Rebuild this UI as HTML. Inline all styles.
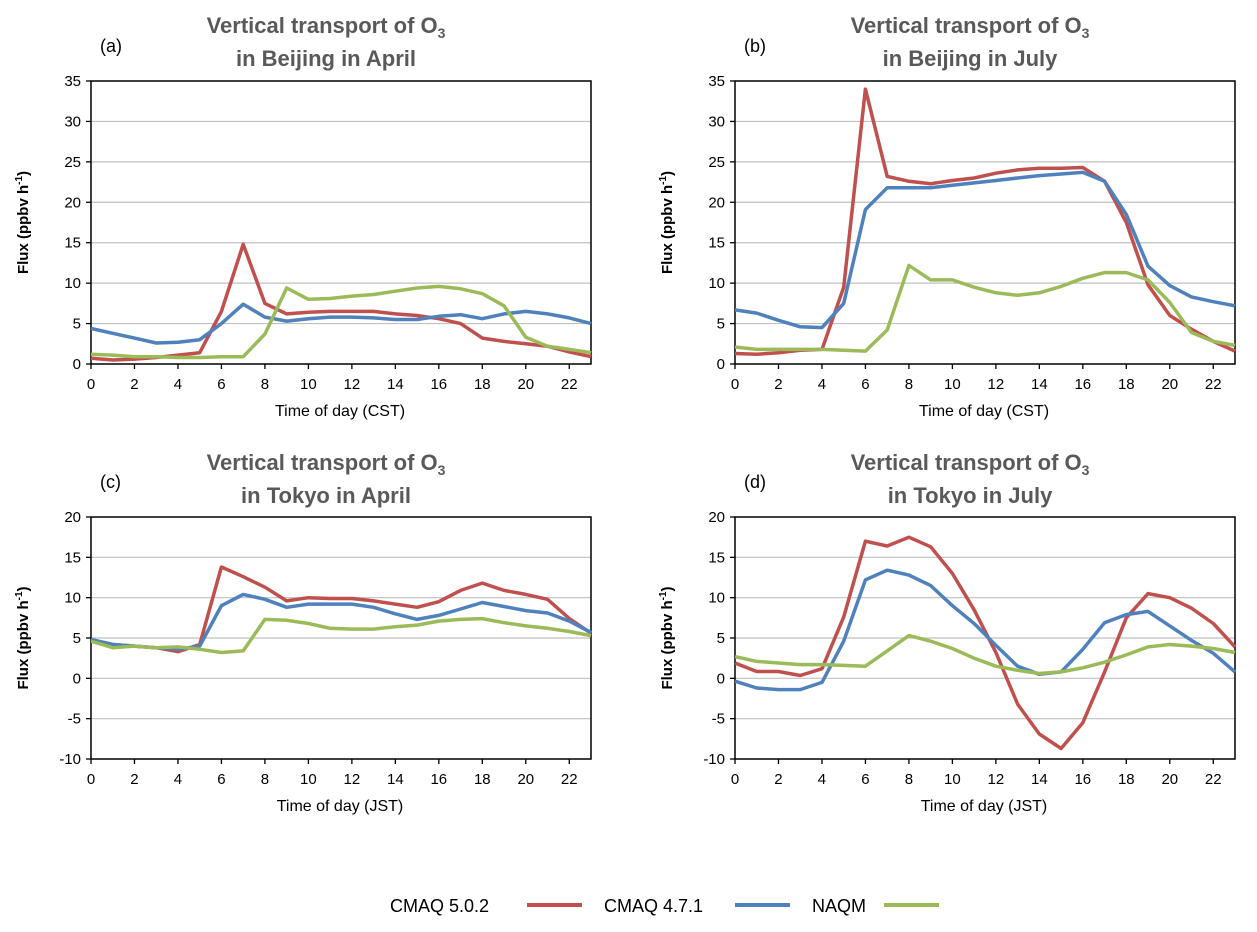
<!DOCTYPE html>
<html><head><meta charset="utf-8"><style>
body{margin:0;background:#fff;font-family:"Liberation Sans",sans-serif}
svg text{font-family:"Liberation Sans",sans-serif}
</style></head><body>
<svg id="s" width="1257" height="927" xmlns="http://www.w3.org/2000/svg"></svg>
<script>
const hours=[0,1,2,3,4,5,6,7,8,9,10,11,12,13,14,15,16,17,18,19,20,21,22,23];
const xTicks=[0,2,4,6,8,10,12,14,16,18,20,22];
const seriesNames=["CMAQ 5.0.2","CMAQ 4.7.1","NAQM"];
const seriesColors=["#c0504d","#4f81bd","#9bbb59"];
const aRed=[0.7,0.5,0.6,0.8,1.1,1.4,6.5,14.8,7.5,6.2,6.4,6.5,6.5,6.5,6.2,6,5.6,5,3.2,2.8,2.5,2.2,1.5,0.9];
const aBlue=[4.4,3.8,3.2,2.6,2.7,3,5,7.4,5.8,5.3,5.6,5.8,5.8,5.7,5.5,5.5,5.9,6.1,5.6,6.2,6.5,6.2,5.7,5];
const aGreen=[1.2,1.1,0.9,0.9,0.8,0.8,0.9,0.9,3.7,9.4,8,8.1,8.4,8.6,9,9.4,9.6,9.3,8.7,7.2,3.3,2.2,1.8,1.4];
const bRed=[1.3,1.2,1.4,1.7,1.8,9.5,34,23.2,22.6,22.3,22.7,23,23.6,24,24.2,24.2,24.3,22.6,17.5,9.8,6,4.3,2.8,1.6];
const bBlue=[6.7,6.3,5.4,4.6,4.5,7.5,19.1,21.8,21.8,21.8,22.1,22.4,22.7,23,23.3,23.5,23.7,22.6,18.5,12.1,9.7,8.3,7.7,7.2];
const bGreen=[2.1,1.8,1.8,1.8,1.8,1.7,1.6,4.2,12.2,10.4,10.4,9.5,8.8,8.5,8.8,9.6,10.6,11.3,11.3,10.4,7.6,3.9,2.8,2.3];
const cRed=[4.8,4.2,4,3.8,3.3,4.2,13.8,12.6,11.3,9.6,10,9.9,9.9,9.6,9.2,8.8,9.5,10.9,11.8,10.9,10.4,9.8,7.4,5.6];
const cBlue=[4.8,4.2,4,3.8,3.6,4,9,10.4,9.8,8.8,9.2,9.2,9.2,8.8,8,7.3,7.8,8.6,9.4,8.9,8.4,8.1,7.1,5.7];
const cGreen=[4.6,3.8,4,3.8,3.9,3.6,3.2,3.4,7.3,7.2,6.8,6.2,6.1,6.1,6.4,6.6,7.1,7.3,7.4,6.9,6.5,6.2,5.8,5.3];
const dRed=[1.9,0.85,0.85,0.35,1.2,7.6,17,16.4,17.5,16.3,13,8.5,3.2,-3.2,-6.9,-8.7,-5.5,0.8,7.5,10.5,10,8.7,6.8,3.9];
const dBlue=[-0.35,-1.2,-1.4,-1.4,-0.5,4.6,12.2,13.4,12.8,11.5,9,6.8,4.1,1.5,0.5,0.8,3.6,6.9,7.9,8.3,6.5,4.7,3.1,0.8];
const dGreen=[2.7,2.1,1.9,1.7,1.7,1.6,1.5,3.4,5.3,4.6,3.7,2.5,1.5,1,0.6,0.8,1.3,2,2.9,3.9,4.2,4,3.7,3.2];
const yTicksBJ=[0,5,10,15,20,25,30,35];
const yTicksTK=[-10,-5,0,5,10,15,20];

const NS="http://www.w3.org/2000/svg";const S=document.getElementById('s');
function el(t,a,p){const e=document.createElementNS(NS,t);for(const k in a)e.setAttribute(k,a[k]);(p||S).appendChild(e);return e;}
function txt(s,a,p){const e=el('text',a,p);e.textContent=s;return e;}

const panels=[
 {id:'a',L:91,R:591,T:81,B:364,ymin:0,ymax:35,yt:yTicksBJ,series:[aRed,aBlue,aGreen],city:'Beijing in April',tz:'CST',ty:25},
 {id:'b',L:735,R:1235,T:81,B:364,ymin:0,ymax:35,yt:yTicksBJ,series:[bRed,bBlue,bGreen],city:'Beijing in July',tz:'CST',ty:25},
 {id:'c',L:91,R:591,T:517,B:759,ymin:-10,ymax:20,yt:yTicksTK,series:[cRed,cBlue,cGreen],city:'Tokyo in April',tz:'JST',ty:462},
 {id:'d',L:735,R:1235,T:517,B:759,ymin:-10,ymax:20,yt:yTicksTK,series:[dRed,dBlue,dGreen],city:'Tokyo in July',tz:'JST',ty:462}
];
panels.forEach(P=>{
 const g=el('g',{});
 
 
 const xs=h=>P.L+(P.R-P.L)*h/23;
 const ys=v=>P.B-(P.B-P.T)*(v-P.ymin)/(P.ymax-P.ymin);
 const cx=(P.L+P.R)/2-15;
 const t1=txt('Vertical transport of O',{x:cx,y:P.ty+8,'text-anchor':'middle','font-size':22,'font-weight':'bold',fill:'#595959'},g);
 
 const sub=el('tspan',{'font-size':14,dy:5},t1);sub.textContent='3';
 const t2=txt('in '+P.city,{x:cx,y:P.ty+41,'text-anchor':'middle','font-size':22,'font-weight':'bold',fill:'#595959'},g);
 
 const pl=txt('('+P.id+')',{x:P.L+9,y:P.T-29,'font-size':18,fill:'#000'},g);
 
 P.yt.forEach(v=>{
  if(v!==P.ymin&&v!==P.ymax){const gl=el('line',{x1:P.L,x2:P.R,y1:ys(v),y2:ys(v),stroke:'#c0c0c0','stroke-width':1.2},g);}
  el('line',{x1:P.L-5,x2:P.L,y1:ys(v),y2:ys(v),stroke:'#000','stroke-width':1.3},g);
  const t=txt(String(v),{x:P.L-10,y:ys(v)+5,'text-anchor':'end','font-size':15,fill:'#000'},g);
  
 });
 xTicks.forEach(h=>{
  el('line',{x1:xs(h),x2:xs(h),y1:P.B,y2:P.B+5,stroke:'#000','stroke-width':1.3},g);
  const t=txt(String(h),{x:xs(h),y:P.B+25,'text-anchor':'middle','font-size':15,fill:'#000'},g);
  
 });
 const fr=el('rect',{x:P.L,y:P.T,width:P.R-P.L,height:P.B-P.T,fill:'none',stroke:'#000','stroke-width':1.5},g);
 
 const xt=txt('Time of day ('+P.tz+')',{x:(P.L+P.R)/2-1,y:P.B+52,'text-anchor':'middle','font-size':16,fill:'#000'},g);
 
 const yc=(P.T+P.B)/2;
 const yt=txt('',{x:0,y:0,'font-size':15,'font-weight':'bold',fill:'#000','text-anchor':'middle',transform:`translate(${P.L-63},${yc}) rotate(-90)`},g);
 
 yt.textContent='Flux (ppbv h';
 const sp=el('tspan',{'font-size':10,dy:-6},yt);sp.textContent='-1';
 const sp2=el('tspan',{dy:6},yt);sp2.textContent=')';
 const clip=el('clipPath',{id:'clip'+P.id},g);el('rect',{x:P.L,y:P.T-10,width:P.R-P.L+2,height:P.B-P.T+12},clip);
 P.series.forEach((arr,i)=>{
  const pts=arr.map((v,h)=>xs(hours[h]).toFixed(1)+','+ys(v).toFixed(1)).join(' ');
  const pl=el('polyline',{points:pts,fill:'none',stroke:seriesColors[i],'stroke-width':3.5,'stroke-linejoin':'round','clip-path':'url(#clip'+P.id+')'},g);
  
  
 });
});
const lg=el('g',{});


const lx=[[390,527],[604,735],[812,884]];
seriesNames.forEach((n,i)=>{
 const e=el('g',{},lg);
 
 
 txt(n,{x:lx[i][0],y:912,'font-size':18,fill:'#000'},e);
 el('line',{x1:lx[i][1],x2:lx[i][1]+55,y1:905,y2:905,stroke:seriesColors[i],'stroke-width':4},e);
});
</script>
</body></html>
